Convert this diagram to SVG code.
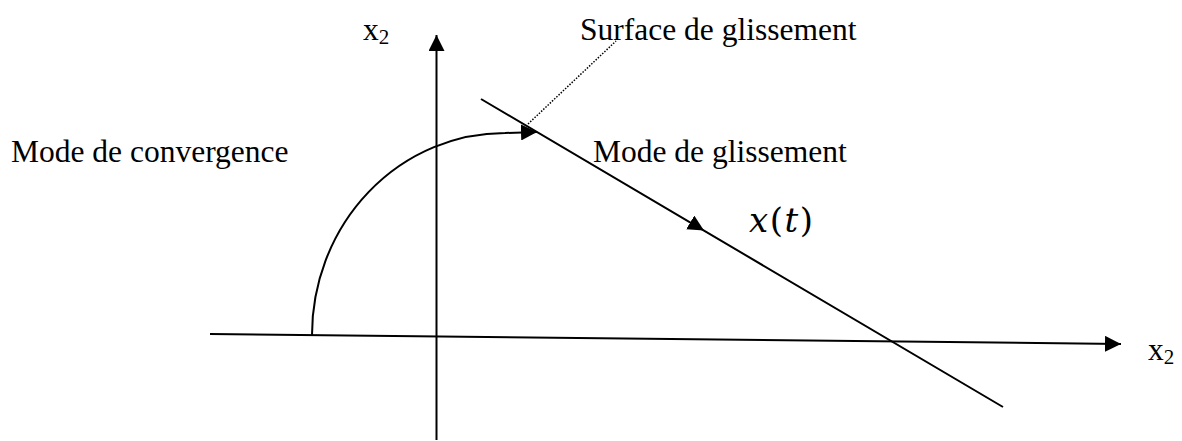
<svg xmlns="http://www.w3.org/2000/svg" width="1182" height="441" viewBox="0 0 1182 441">
<defs>
<style>
.lbl{font-family:"Liberation Serif","Times New Roman",serif;font-size:31.5px;fill:#000}
.sub{font-size:21px}
.ln{stroke:#000;stroke-width:2;fill:none}
.dot{stroke:#000;stroke-width:1.5;fill:none;stroke-dasharray:1.5 1.5}
.math{font-family:"DejaVu Serif","Liberation Serif",serif;font-size:34px;fill:#000}
</style>
<marker id="arr" viewBox="0 0 16 16" refX="16" refY="8" markerWidth="16" markerHeight="16" markerUnits="userSpaceOnUse" orient="auto">
<path d="M0,0 L16,8 L0,16 z" fill="#000"/>
</marker>
</defs>
<rect width="1182" height="441" fill="#fff"/>
<g id="connectors">
<line class="ln" x1="436.5" y1="440" x2="436.5" y2="35" marker-end="url(#arr)"/>
<line class="ln" x1="210" y1="334" x2="1121" y2="344" marker-end="url(#arr)"/>
<path class="ln" d="M481,99 L704,230.6 L1003,407" marker-mid="url(#arr)"/>
<path class="ln" d="M312,335 A193,202 0 0 1 505,133 L537,132" marker-end="url(#arr)"/>
<line class="dot" x1="528" y1="124" x2="616" y2="41"/>
</g>
<g id="label-x2-top"><text class="lbl" x="363" y="40">x<tspan class="sub" dy="4">2</tspan></text></g>
<g id="label-x2-right"><text class="lbl" x="1148" y="360">x<tspan class="sub" dy="4">2</tspan></text></g>
<g id="label-surface"><text class="lbl" x="580" y="40">Surface de glissement</text></g>
<g id="label-convergence"><text class="lbl" x="11" y="162">Mode de convergence</text></g>
<g id="label-glissement"><text class="lbl" x="593" y="162">Mode de glissement</text></g>
<g id="label-xt"><text class="math" x="749" y="232" textLength="64" lengthAdjust="spacing"><tspan font-style="italic">x</tspan>(<tspan font-style="italic">t</tspan>)</text></g>
</svg>
